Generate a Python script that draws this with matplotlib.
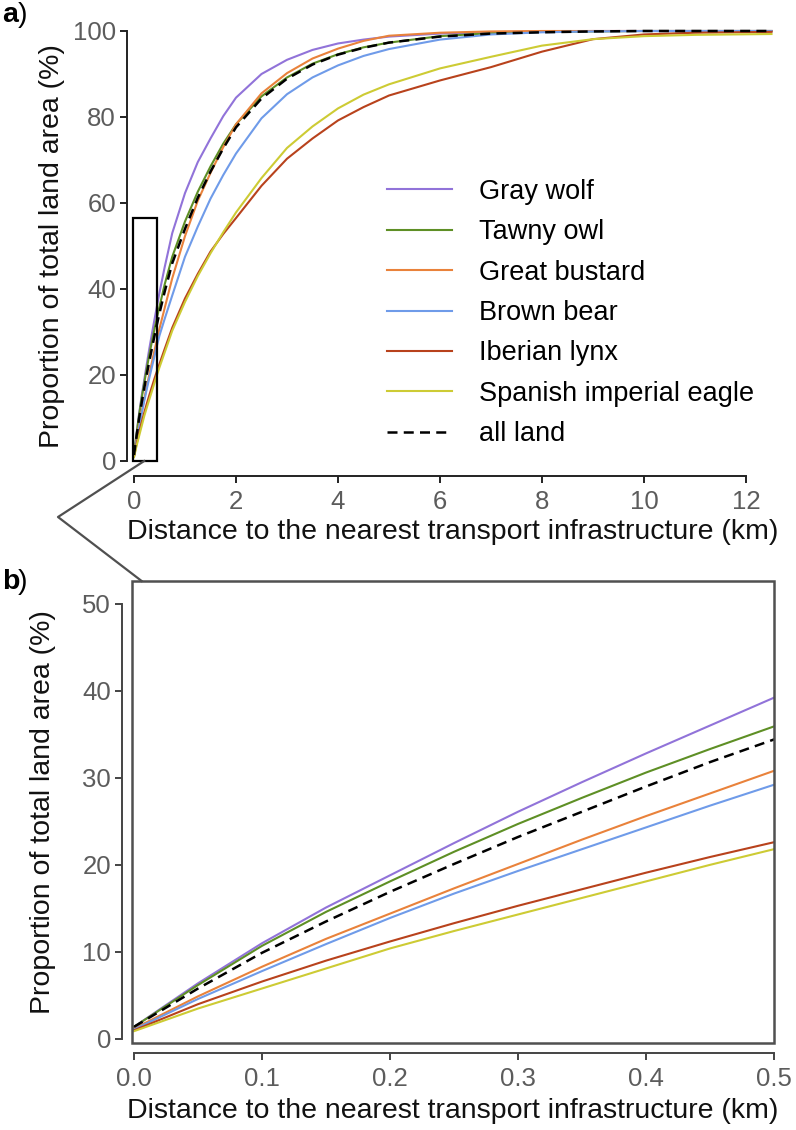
import numpy as np
import matplotlib
matplotlib.use('Agg')
import matplotlib.pyplot as plt
from matplotlib.lines import Line2D
from matplotlib.patches import Rectangle

plt.rcParams['font.family'] = ['Liberation Sans', 'DejaVu Sans']

# distance to nearest transport infrastructure (km)
distance_km = [0.0, 0.05, 0.1, 0.15, 0.2, 0.25, 0.3, 0.35, 0.4, 0.45, 0.5,
               0.6, 0.75, 1.0, 1.25, 1.5, 1.75, 2.0, 2.5, 3.0, 3.5, 4.0, 4.5,
               5.0, 6.0, 7.0, 8.0, 9.0, 10.0, 11.0, 12.5]

# cumulative proportion of land area (%)
gray_wolf = [1.4, 6.4, 11.0, 15.1, 18.8, 22.5, 26.1, 29.5, 32.8, 36.0, 39.2,
             45.0, 53.0, 62.3, 69.5, 75.0, 80.2, 84.5, 90.0, 93.3, 95.6, 97.1, 98.0,
             98.7, 99.4, 99.7, 99.9, 100.0, 100.0, 100.0, 100.0]
tawny_owl = [1.4, 6.2, 10.7, 14.6, 18.1, 21.5, 24.7, 27.7, 30.6, 33.3, 35.9,
             41.0, 47.5, 55.7, 62.6, 68.5, 73.8, 78.3, 84.8, 89.2, 92.4, 94.6, 96.2,
             97.3, 98.8, 99.5, 99.8, 99.9, 100.0, 100.0, 100.0]
great_bustard = [1.2, 4.9, 8.3, 11.5, 14.4, 17.3, 20.1, 22.9, 25.6, 28.2, 30.8,
                 35.5, 42.5, 52.3, 60.5, 67.0, 73.0, 78.3, 85.5, 90.2, 93.6, 95.9, 97.7,
                 98.9, 99.6, 99.9, 100.0, 100.0, 100.0, 100.0, 100.0]
brown_bear = [1.1, 4.6, 7.8, 10.9, 13.9, 16.7, 19.3, 21.8, 24.3, 26.8, 29.2,
              33.0, 38.5, 47.5, 54.5, 61.0, 66.5, 71.5, 79.7, 85.3, 89.2, 92.0, 94.2,
              95.8, 98.0, 99.2, 99.7, 99.9, 100.0, 100.0, 100.0]
iberian_lynx = [1.0, 4.0, 6.6, 9.0, 11.2, 13.3, 15.3, 17.2, 19.1, 20.9, 22.6,
                26.0, 31.0, 37.8, 43.5, 48.7, 52.8, 56.5, 64.0, 70.3, 75.0, 79.2, 82.3,
                85.0, 88.5, 91.6, 95.2, 98.1, 99.2, 99.6, 99.8]
imperial_eagle = [0.9, 3.5, 5.8, 8.1, 10.4, 12.4, 14.3, 16.2, 18.1, 20.0, 21.8,
                  25.2, 30.3, 37.0, 43.0, 48.3, 53.2, 57.8, 65.8, 72.8, 77.8, 82.0, 85.2,
                  87.6, 91.3, 94.0, 96.6, 98.1, 98.8, 99.1, 99.3]
all_land = [1.4, 5.8, 9.9, 13.5, 16.9, 20.1, 23.2, 26.1, 29.0, 31.8, 34.4,
            39.3, 46.0, 54.0, 61.2, 67.3, 72.7, 77.6, 84.3, 88.9, 92.2, 94.5, 96.1,
            97.3, 98.7, 99.4, 99.7, 99.9, 100.0, 100.0, 100.0]

series_names = ['Gray wolf', 'Tawny owl', 'Great bustard', 'Brown bear',
                'Iberian lynx', 'Spanish imperial eagle']
series_values = [gray_wolf, tawny_owl, great_bustard, brown_bear,
                 iberian_lynx, imperial_eagle]
series_colors = ['#9173d9', '#5e8f25', '#e9823b', '#6f9be9', '#b8421c', '#cdcb34']

a_xticks = [0, 2, 4, 6, 8, 10, 12]
a_yticks = [0, 20, 40, 60, 80, 100]
b_xticks = [0.0, 0.1, 0.2, 0.3, 0.4, 0.5]
b_yticks = [0, 10, 20, 30, 40, 50]

W, H = 796, 1130
LABEL_FS = 20.5
TICK_FS = 18.5
LEGEND_FS = 19.5
TICK_COLOR = '#5c5c5c'
XLABEL = 'Distance to the nearest transport infrastructure (km)'
YLABEL = 'Proportion of total land area (%)'


def px_box(left, top, right, bottom):
    return [left / W, 1 - bottom / H, (right - left) / W, (bottom - top) / H]


def style_axis(ax, xb, yb, out_left, out_bottom, spine_color):
    for s in ('top', 'right'):
        ax.spines[s].set_visible(False)
    ax.spines['left'].set_position(('outward', out_left))
    ax.spines['bottom'].set_position(('outward', out_bottom))
    ax.spines['left'].set_bounds(*yb)
    ax.spines['bottom'].set_bounds(*xb)
    for s in ('left', 'bottom'):
        ax.spines[s].set_linewidth(1.4)
        ax.spines[s].set_color(spine_color)
    ax.tick_params(length=5, width=1.4, color=spine_color, labelsize=TICK_FS,
                   labelcolor=TICK_COLOR)
    ax.tick_params(axis='x', pad=5)
    ax.tick_params(axis='y', pad=3)
    ax.set_xlabel(XLABEL, fontsize=LABEL_FS, color='#111111', labelpad=0)
    ax.set_ylabel(YLABEL, fontsize=LABEL_FS, color='#111111')
    ax.patch.set_alpha(0)


fig = plt.figure(figsize=(W / 100, H / 100), dpi=100)

# ---- panel a ----
ax_a = fig.add_axes(px_box(134, 31, 771.5, 461))
for name, vals, col in zip(series_names, series_values, series_colors):
    ax_a.plot(distance_km, vals, color=col, lw=1.5, label=name, clip_on=False)
ax_a.plot(distance_km, all_land, color='black', lw=1.8, ls=(0, (4, 2.5)),
          label='all land', clip_on=False)
ax_a.set_xlim(0, 12.5)
ax_a.set_ylim(0, 100)
ax_a.set_xticks(a_xticks)
ax_a.set_yticks(a_yticks)
style_axis(ax_a, (0, 12), (0, 100), 5, 10.8, '#222222')
ax_a.yaxis.set_label_coords(-0.108, 0.5)
ax_a.xaxis.set_label_coords(0.5, -0.134)
ax_a.add_patch(Rectangle((-0.02, 0), 0.47, 56.5, fill=False, ec='black',
                         lw=1.6, clip_on=False, zorder=5))
ax_a.legend(loc='center left', bbox_to_anchor=(387 / W, 1 - 313 / H),
            bbox_transform=fig.transFigure, frameon=False, fontsize=LEGEND_FS,
            handlelength=2.4, handletextpad=1.0, labelspacing=0.53,
            borderpad=0, borderaxespad=0)

# ---- panel b ----
ax_b = fig.add_axes(px_box(132, 581, 774, 1043))
for name, vals, col in zip(series_names, series_values, series_colors):
    ax_b.plot(distance_km, vals, color=col, lw=1.5)
ax_b.plot(distance_km, all_land, color='black', lw=1.8, ls=(0, (4, 2.5)))
ax_b.set_xlim(-0.0016, 0.4988)
ax_b.set_ylim(-0.46, 52.6)
ax_b.set_xticks(b_xticks)
ax_b.set_xticklabels([f'{v:.1f}' for v in b_xticks])
ax_b.set_yticks(b_yticks)
style_axis(ax_b, (0, 0.5), (0, 50), 7.2, 7.2, '#444444')
ax_b.yaxis.set_label_coords(-0.118, 0.5)
ax_b.xaxis.set_label_coords(0.5, -0.118)
ax_b.add_patch(Rectangle((0, 0), 1, 1, transform=ax_b.transAxes, fill=False,
                         ec='#505050', lw=1.8, clip_on=False, zorder=5))

# zoom connector from the box in panel a to panel b
p_start = fig.transFigure.inverted().transform(ax_a.transData.transform((0.2, 0)))
p_end = fig.transFigure.inverted().transform(ax_b.transAxes.transform((0.015, 1.0)))
apex = (58 / W, 1 - 517 / H)
fig.add_artist(Line2D([p_start[0], apex[0], p_end[0]], [p_start[1], apex[1], p_end[1]],
                      transform=fig.transFigure, color='#505050', lw=1.6))

# panel letters
for letter, y in (('a', 15), ('b', 582)):
    fig.text(2 / W, 1 - y / H, letter, fontsize=LABEL_FS, fontweight='bold', va='center')
    fig.text(18 / W, 1 - y / H, ')', fontsize=LABEL_FS, va='center')

fig.savefig('out.png', dpi=100)
